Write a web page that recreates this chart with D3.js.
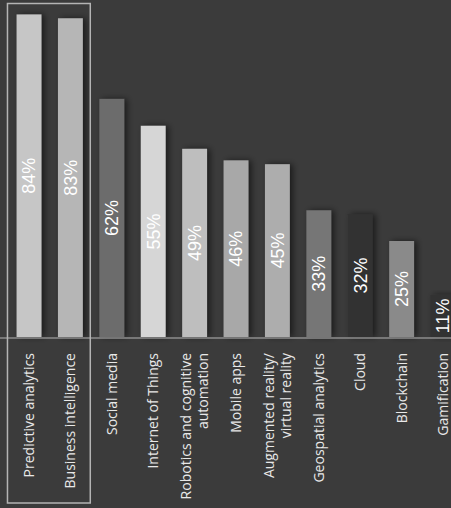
<!DOCTYPE html>
<html>
<head>
<meta charset="utf-8">
<script src="https://cdn.jsdelivr.net/npm/d3@7"></script>
<style>
html,body{margin:0;padding:0;background:#3a3a3a;}
svg{display:block;}
</style>
</head>
<body>
<svg id="chart" width="451" height="508"></svg>
<script>
const categories = [
  ["Predictive analytics"],
  ["Business intelligence"],
  ["Social media"],
  ["Internet of Things"],
  ["Robotics and cognitive", "automation"],
  ["Mobile apps"],
  ["Augmented reality/", "virtual reality"],
  ["Geospatial analytics"],
  ["Cloud"],
  ["Blockchain"],
  ["Gamification"]
];
const values = [84, 83, 62, 55, 49, 46, 45, 33, 32, 25, 11];
const valueLabels = ["84%", "83%", "62%", "55%", "49%", "46%", "45%", "33%", "32%", "25%", "11%"];
const barColors = ["#c6c6c6", "#b6b6b6", "#6c6c6c", "#d6d6d6", "#bebebe", "#a8a8a8", "#adadad", "#767676", "#333333", "#8a8a8a", "#303030"];
const highlighted = ["Predictive analytics", "Business intelligence"];

const W = 451, H = 508;
const svg = d3.select("#chart");
const keys = categories.map(c => c.join(" "));

svg.append("rect").attr("width", W).attr("height", H).attr("fill", "#3b3b3b");

const defs = svg.append("defs");
const f = defs.append("filter").attr("id", "shadow").attr("x", "-50%").attr("y", "-10%").attr("width", "200%").attr("height", "120%");
f.append("feDropShadow").attr("dx", 3).attr("dy", 0).attr("stdDeviation", 3)
  .attr("flood-color", "#000").attr("flood-opacity", 0.55);

const x = d3.scaleBand().domain(keys).range([8.3, 463.7]).paddingInner(0.4).paddingOuter(0.2);
const y = d3.scaleLinear().domain([0, 100]).range([337, 337 - 384]);

// bars
svg.append("g").selectAll("rect").data(keys).join("rect")
  .attr("x", d => x(d))
  .attr("y", (d, i) => y(values[i]))
  .attr("width", x.bandwidth())
  .attr("height", (d, i) => y(0) - y(values[i]))
  .attr("fill", (d, i) => barColors[i])
  .attr("filter", "url(#shadow)");

// baseline
svg.append("line").attr("x1", 0).attr("x2", W).attr("y1", y(0) + 1).attr("y2", y(0) + 1)
  .attr("stroke", "#8e8e8e").attr("stroke-width", 1.5);

// value labels
svg.append("g").selectAll("text").data(keys).join("text")
  .attr("transform", (d, i) => `translate(${x(d) + x.bandwidth() / 2},${(y(values[i]) + y(0)) / 2}) rotate(-90)`)
  .attr("text-anchor", "middle")
  .attr("dy", "0.36em")
  .attr("font-family", "'Liberation Sans', Arial, sans-serif")
  .attr("font-size", 18)
  .attr("fill", "#ffffff")
  .text((d, i) => valueLabels[i]);

// category labels
const lab = svg.append("g").selectAll("text").data(categories).join("text")
  .attr("transform", (d, i) => `translate(${x(keys[i]) + x.bandwidth() / 2},353) rotate(-90)`)
  .attr("text-anchor", "end")
  .attr("font-family", "'Open Sans', sans-serif")
  .attr("font-size", 14)
  .attr("fill", "#e8e8e8");
lab.each(function(d) {
  const t = d3.select(this);
  const n = d.length;
  d.forEach((line, j) => {
    t.append("tspan").attr("x", 0)
      .attr("y", (j - (n - 1) / 2) * 17)
      .attr("dy", "0.35em")
      .text(line);
  });
});

// highlight box around first two categories
const bx0 = x(highlighted[0]) - x.step() * 0.22;
const bx1 = x(highlighted[1]) + x.bandwidth() + x.step() * 0.18;
svg.append("rect")
  .attr("x", bx0).attr("y", 3.5)
  .attr("width", bx1 - bx0).attr("height", 499.5)
  .attr("fill", "none").attr("stroke", "#b4b4b4").attr("stroke-width", 1.5);
</script>
</body>
</html>
